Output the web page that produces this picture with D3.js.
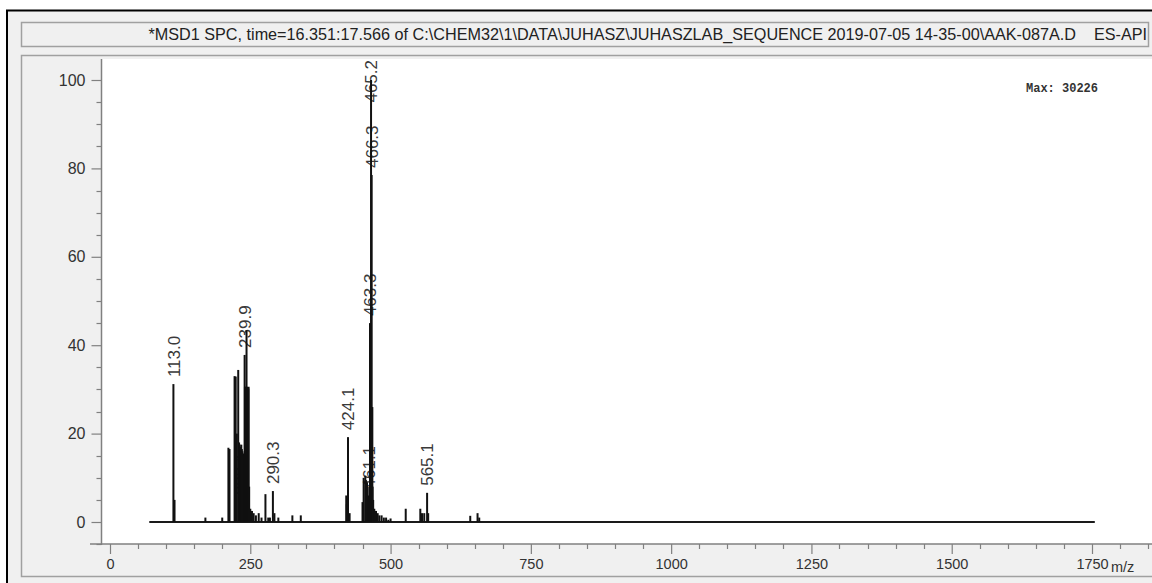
<!DOCTYPE html>
<html>
<head>
<meta charset="utf-8">
<script src="https://cdn.jsdelivr.net/npm/d3@7"></script>
<style>
  html, body { margin: 0; padding: 0; background: #ffffff; }
  svg { display: block; }
</style>
</head>
<body>
<svg id="chart" width="1152" height="583"></svg>
<script>
// Mass spectrum (ES-API) — m/z positions and relative abundance (%)
const titleText = "*MSD1 SPC, time=16.351:17.566 of C:\\CHEM32\\1\\DATA\\JUHASZ\\JUHASZLAB_SEQUENCE 2019-07-05 14-35-00\\AAK-087A.D    ES-API";
const maxText = "Max: 30226";

const peakMz = [
  113.0, 115, 170, 200, 211, 213, 222, 224, 226, 228.5, 230, 231, 232, 233.1, 234, 235, 236, 237, 238,
  239.9, 240.5, 241, 241.5, 242, 242.5, 243.3, 244, 244.5, 245, 245.5, 246, 246.5, 247, 248, 250, 253, 256, 260, 265, 270,
  277, 282, 285, 290.3, 293, 300, 325, 340,
  421, 422, 424.1, 427, 450, 451, 452, 455, 456, 458, 461.1, 462, 463.3, 464, 465.2, 466.3, 467.5, 468, 469, 471,
  474, 477, 480, 484, 488, 492, 496, 500,
  527, 553, 556, 560, 565.1, 567, 642, 655, 658
];
const peakInt = [
  31.2, 5, 1, 1, 16.8, 16.5, 33, 32.9, 20, 34.4, 18, 17.5, 17, 4.5, 17.5, 16.5, 16, 15.5, 15,
  37.8, 30.6, 30.6, 30.5, 30, 30.4, 43.4, 30.6, 30.5, 30.5, 30.4, 30, 30.2, 30.6, 8, 3, 2.5, 2, 1.5, 2, 1,
  6.3, 1, 1, 7, 2, 1, 1.5, 1.5,
  6, 4, 19.2, 2, 4.5, 4, 10, 10.5, 9.5, 9, 6, 8, 45, 40, 100, 78.5, 26, 8, 5, 3,
  2.5, 2, 1.5, 1.5, 1, 1, 0.5, 0.8,
  3, 3, 2, 2, 6.6, 2, 1.4, 2, 1
];

// Annotated peaks
const labelMz = [113.0, 233.1, 239.9, 290.3, 424.1, 461.1, 463.3, 465.2, 466.3, 565.1];
const labelText = ["113.0", "233.1", "239.9", "290.3", "424.1", "461.1", "463.3", "465.2", "466.3", "565.1"];

const scanRange = [70, 1755];
const xTicks = [0, 250, 500, 750, 1000, 1250, 1500, 1750];
const yTicks = [0, 20, 40, 60, 80, 100];

const svg = d3.select("#chart");

// Window frame
svg.append("rect").attr("x", 0).attr("y", 0).attr("width", 1152).attr("height", 583).attr("fill", "#ffffff");
svg.append("rect").attr("x", 7).attr("y", 10.5).attr("width", 1150).attr("height", 580)
  .attr("fill", "#f0f0f0").attr("stroke", "#000").attr("stroke-width", 2);

// Title box
svg.append("rect").attr("x", 21.5).attr("y", 22.5).attr("width", 1127).attr("height", 24)
  .attr("fill", "#f0f0f0").attr("stroke", "#a0a0a0").attr("stroke-width", 1.5);
svg.append("text").attr("x", 1147).attr("y", 40)
  .attr("text-anchor", "end")
  .attr("font-family", "Liberation Sans, Arial, sans-serif")
  .attr("font-size", 16.2).attr("fill", "#222")
  .attr("xml:space", "preserve")
  .text(titleText);

// Plot panel box
svg.append("rect").attr("x", 21.5).attr("y", 55.5).attr("width", 1140).attr("height", 521)
  .attr("fill", "#f0f0f0").attr("stroke", "#a0a0a0").attr("stroke-width", 1.5);

// White plotting area
const plotLeft = 102, plotTop = 59, plotRight = 1152, plotBottom = 544;
svg.append("rect").attr("x", plotLeft).attr("y", plotTop)
  .attr("width", plotRight - plotLeft).attr("height", plotBottom - plotTop).attr("fill", "#ffffff");

const x = d3.scaleLinear().domain([0, 1750]).range([110, 1092]);
const y = d3.scaleLinear().domain([0, 100]).range([522, 80]);

const axisColor = "#808080";
const fontFam = "Liberation Sans, Arial, sans-serif";

// Y axis
const yAxisG = svg.append("g").attr("transform", `translate(${plotLeft - 0.5},0)`);
yAxisG.append("line").attr("x1", 0).attr("x2", 0).attr("y1", plotTop).attr("y2", plotBottom + 1)
  .attr("stroke", axisColor).attr("stroke-width", 1.5);
const yMinor = d3.range(-5, 105, 5).filter(v => v % 20 !== 0);
yAxisG.selectAll(".ymin").data(yMinor).join("line")
  .attr("x1", -5).attr("x2", 0).attr("y1", d => Math.round(y(d)) + 0.5).attr("y2", d => Math.round(y(d)) + 0.5)
  .attr("stroke", axisColor).attr("stroke-width", 1.2);
const yAxis = d3.axisLeft(y).tickValues(yTicks).tickSize(10).tickPadding(6).tickFormat(d3.format("d"));
const yAx = svg.append("g").attr("transform", `translate(${plotLeft - 0.5},0)`).call(yAxis);
yAx.select(".domain").remove();
yAx.selectAll(".tick line").attr("stroke", axisColor).attr("stroke-width", 1.2);
yAx.selectAll(".tick text").attr("font-family", fontFam)
  .attr("font-size", 16).attr("fill", "#333");

// X axis
const xAxisG = svg.append("g").attr("transform", `translate(0,${plotBottom})`);
xAxisG.append("line").attr("x1", plotLeft - 12).attr("x2", plotRight).attr("y1", 0).attr("y2", 0)
  .attr("stroke", axisColor).attr("stroke-width", 1.5);
const xMinor = d3.range(50, 1900, 50).filter(v => v % 250 !== 0);
xAxisG.selectAll(".xmin").data(xMinor).join("line")
  .attr("x1", d => Math.round(x(d)) + 0.5).attr("x2", d => Math.round(x(d)) + 0.5)
  .attr("y1", 0).attr("y2", 5)
  .attr("stroke", axisColor).attr("stroke-width", 1.2);
const xAxis = d3.axisBottom(x).tickValues(xTicks).tickSize(10).tickPadding(5).tickFormat(d3.format("d"));
const xAx = svg.append("g").attr("transform", `translate(0,${plotBottom})`).call(xAxis);
xAx.select(".domain").remove();
xAx.selectAll(".tick line").attr("stroke", axisColor).attr("stroke-width", 1.2);
xAx.selectAll(".tick text").attr("font-family", fontFam)
  .attr("font-size", 14.5).attr("fill", "#333");

svg.append("text").attr("x", x(1750) + 19).attr("y", 572)
  .attr("font-family", fontFam)
  .attr("font-size", 14.5).attr("fill", "#333").text("m/z");

// Max abundance note
svg.append("text").attr("x", 1098).attr("y", 92)
  .attr("text-anchor", "end")
  .attr("font-family", "Liberation Mono, Courier New, monospace")
  .attr("font-weight", "bold")
  .attr("font-size", 12).attr("fill", "#333")
  .attr("xml:space", "preserve")
  .text(maxText);

// Peak labels (rotated, drawn under the sticks)
const intByMz = new Map(peakMz.map((m, i) => [m, peakInt[i]]));
const labelG = svg.append("g");
labelMz.forEach((m, i) => {
  const px = x(m);
  const top = y(intByMz.get(m)) - 7;
  const approxLen = 44;
  const clamp = top - approxLen < plotTop + 1;
  labelG.append("text")
    .attr("transform", `translate(${px},${clamp ? plotTop + 1 : top}) rotate(-90)`)
    .attr("text-anchor", clamp ? "end" : "start")
    .attr("dy", "0.36em")
    .attr("font-family", fontFam)
    .attr("font-size", 17).attr("fill", "#3a3a3a")
    .text(labelText[i]);
});

// Baseline of the scan range
svg.append("line")
  .attr("x1", x(scanRange[0])).attr("x2", x(scanRange[1]))
  .attr("y1", y(0)).attr("y2", y(0))
  .attr("stroke", "#1a1a1a").attr("stroke-width", 2);

// Peak sticks
svg.append("g").selectAll("line").data(peakMz.map((m, i) => ({ m, v: peakInt[i] }))).join("line")
  .attr("x1", d => x(d.m)).attr("x2", d => x(d.m))
  .attr("y1", y(0)).attr("y2", d => y(d.v))
  .attr("stroke", "#111").attr("stroke-width", 2);
</script>
</body>
</html>
